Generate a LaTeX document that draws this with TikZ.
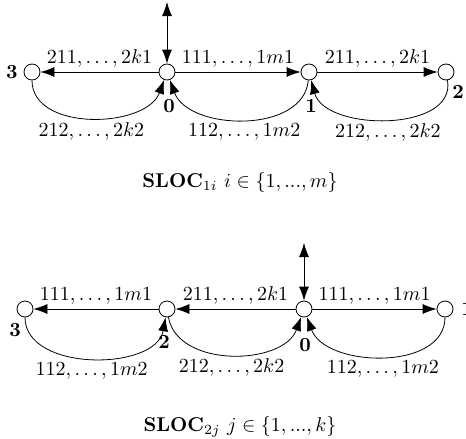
\documentclass[tikz,border=0pt]{standalone}
\usetikzlibrary{arrows.meta}
\begin{document}
\begin{tikzpicture}[
    x=0.5pt, y=-0.5pt, >={Latex[length=7pt,width=5pt]},
    estado/.style={circle,draw,inner sep=0pt,minimum size=8pt},
    etiq/.style={font=\bfseries,inner sep=0pt},
    arco/.style={inner sep=2pt}]
    \useasboundingbox (0,0) rectangle (466,439);

    % Estados de SLOC_1i.
    \node[estado] (a3) at (32,72) {};
    \node[estado] (a0) at (167,72) {};
    \node[estado] (a1) at (309,72) {};
    \node[estado] (a2) at (446,72) {};
    \coordinate (atop) at (167,2);

    % Nombres de los estados.
    \node[etiq] (la3) at (12,72) {3};
    \node[etiq] (la0) at (169,106) {0};
    \node[etiq] (la1) at (311,106) {1};
    \node[etiq] (la2) at (458,92) {2};

    % Transiciones de SLOC_1i.
    \draw[<->] (atop) -- (a0);
    \draw[->] (a0) -- node[above,arco] {$211,\ldots,2k1$} (a3);
    \draw[->] (a0) -- node[above,arco] {$111,\ldots,1m1$} (a1);
    \draw[->] (a1) -- node[above,arco] {$211,\ldots,2k1$} (a2);
    \draw[->] (a3) to[out=-90,in=-110] node[below,arco] {$212,\ldots,2k2$} (a0);
    \draw[->] (a1) to[out=-95,in=-70] node[below,arco] {$112,\ldots,1m2$} (a0);
    \draw[->] (a2) to[out=-80,in=-75] node[below,arco] {$212,\ldots,2k2$} (a1);
    \node (ca) at (240,182) {$\mathbf{SLOC}_{1i}\ i\in\{1,...,m\}$};

    % Estados de SLOC_2j.
    \node[estado] (b3) at (25,309) {};
    \node[estado] (b2) at (167,309) {};
    \node[estado] (b0) at (304,309) {};
    \node[estado] (b1) at (445,309) {};
    \coordinate (btop) at (304,243);

    % Nombres de los estados.
    \node[etiq] (lb3) at (15,330) {3};
    \node[etiq] (lb2) at (164,342) {2};
    \node[etiq] (lb0) at (305,345) {0};
    \node[etiq] (lb1) at (467,309) {1};

    % Transiciones de SLOC_2j.
    \draw[<->] (btop) -- (b0);
    \draw[->] (b2) -- node[above,arco] {$111,\ldots,1m1$} (b3);
    \draw[->] (b0) -- node[above,arco] {$211,\ldots,2k1$} (b2);
    \draw[->] (b0) -- node[above,arco] {$111,\ldots,1m1$} (b1);
    \draw[->] (b3) to[out=-90,in=-100] node[below,arco] {$112,\ldots,1m2$} (b2);
    \draw[->] (b2) to[out=-80,in=-110] node[below,arco] {$212,\ldots,2k2$} (b0);
    \draw[->] (b1) to[out=-90,in=-70] node[below,arco] {$112,\ldots,1m2$} (b0);
    \node (cb) at (240,427) {$\mathbf{SLOC}_{2j}\ j\in\{1,...,k\}$};
\end{tikzpicture}
\end{document}
